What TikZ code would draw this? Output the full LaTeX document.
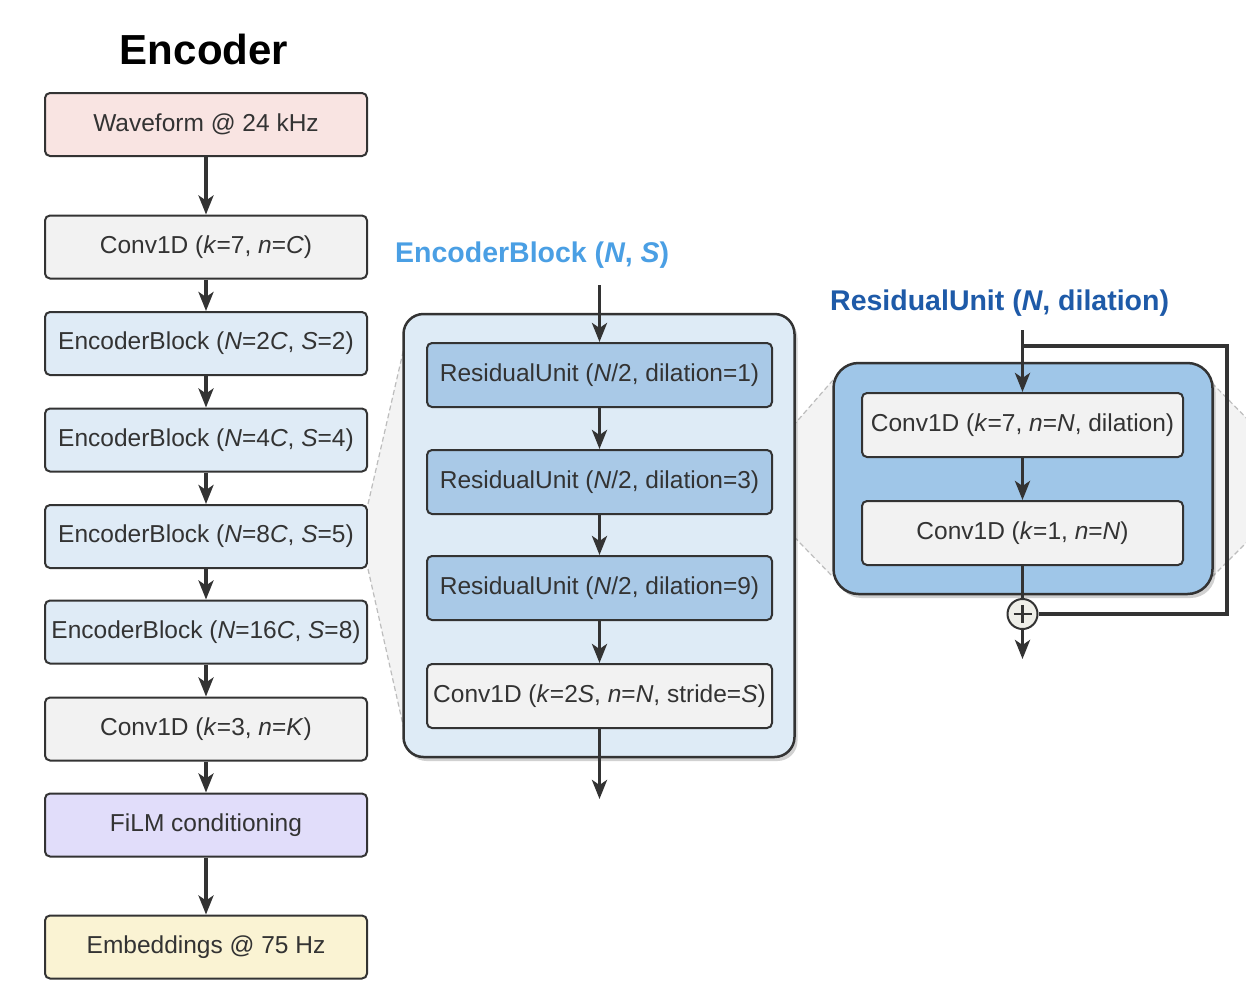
\documentclass[tikz,border=0pt]{standalone}
\usepackage{fontspec}
\setmainfont{Liberation Sans}
\usetikzlibrary{arrows.meta,shadows,calc}
\definecolor{pinkfill}{HTML}{F9E4E2}
\definecolor{grayfill}{HTML}{F2F2F2}
\definecolor{lbluefill}{HTML}{DFEBF6}
\definecolor{lavfill}{HTML}{E1DDFA}
\definecolor{yelfill}{HTML}{FAF3D3}
\definecolor{panelfill}{HTML}{DEEBF6}
\definecolor{rufill}{HTML}{A9C9E7}
\definecolor{rpanelfill}{HTML}{9FC6E8}
\definecolor{dark}{HTML}{333333}
\definecolor{titleblue}{HTML}{4A9FE4}
\definecolor{darkblue}{HTML}{1E5AA8}
\definecolor{zoomgray}{HTML}{F3F3F3}
\definecolor{dashgray}{HTML}{BDBDBD}
\definecolor{plusfill}{HTML}{EFEFE9}
\begin{document}
\begin{tikzpicture}[x=1pt,y=-1pt,
  box/.style={draw=dark,line width=2pt,rounded corners=5pt,minimum width=322pt,minimum height=63pt,inner sep=0pt,text=dark,font=\fontsize{24.5}{29}\selectfont},
  ibox/.style={box,minimum width=345pt,minimum height=64pt},
  rbox/.style={box,minimum width=321pt,minimum height=64pt},
  panel/.style={draw=dark,line width=2.5pt,inner sep=0pt,drop shadow={shadow xshift=3pt,shadow yshift=-4pt,opacity=0.18,fill=black}},
  arr/.style={draw=dark,line width=3.5pt,-{Stealth[length=19pt,width=15pt,inset=5pt]}},
  conn/.style={draw=dark,line width=3.5pt},
  zoomline/.style={draw=dashgray,line width=1.2pt,dash pattern=on 5pt off 3pt},
  ttl/.style={font=\fontsize{28.5}{34}\selectfont\bfseries,inner sep=0pt}
]
\useasboundingbox[fill=white] (0,0) rectangle (1246,1004);

% Title
\node[font=\fontsize{42}{50}\selectfont\bfseries,inner sep=0pt] (enc) at (204,49) {Encoder};

% left column
\node[box,fill=pinkfill] (wave) at (206,124.5) {Waveform @ 24 kHz};
\node[box,fill=grayfill] (c1) at (206,247) {Conv1D (\textit{k}=7, \textit{n}=\textit{C})};
\node[box,fill=lbluefill] (eb2) at (206,343.5) {EncoderBlock (\textit{N}=2\textit{C}, \textit{S}=2)};
\node[box,fill=lbluefill] (eb4) at (206,440) {EncoderBlock (\textit{N}=4\textit{C}, \textit{S}=4)};
\node[box,fill=lbluefill] (eb8) at (206,536.5) {EncoderBlock (\textit{N}=8\textit{C}, \textit{S}=5)};
\node[box,fill=lbluefill] (eb16) at (206,632) {EncoderBlock (\textit{N}=16\textit{C}, \textit{S}=8)};
\node[box,fill=grayfill] (c3) at (206,729) {Conv1D (\textit{k}=3, \textit{n}=\textit{K})};
\node[box,fill=lavfill] (film) at (206,825) {FiLM conditioning};
\node[box,fill=yelfill] (emb) at (206,947) {Embeddings @ 75 Hz};

\draw[arr] (wave) -- (c1);
\draw[arr] (c1) -- (eb2);
\draw[arr] (eb2) -- (eb4);
\draw[arr] (eb4) -- (eb8);
\draw[arr] (eb8) -- (eb16);
\draw[arr] (eb16) -- (c3);
\draw[arr] (c3) -- (film);
\draw[arr] (film) -- (emb);

% zoom region left
\coordinate (ebpl1) at (403.5,350);
\coordinate (ebpl2) at (403.5,727);
\fill[zoomgray] (eb8.north east) -- (ebpl1) -- (ebpl2) -- (eb8.south east) -- cycle;
\draw[zoomline] (eb8.north east) -- (ebpl1);
\draw[zoomline] (eb8.south east) -- (ebpl2);

% zoom region right (drawn before panels)
\coordinate (rz1) at (833,380);
\coordinate (rz2) at (1212,383);
\coordinate (rz3) at (1262,434);
\coordinate (rz4) at (1262,527);
\coordinate (rz5) at (1212,577);
\coordinate (rz6) at (833,577);
\coordinate (ru3ne) at (772,450);
\coordinate (ru3se) at (772,514);
\fill[zoomgray] (ru3ne) -- (rz1) -- (rz2) -- (rz3) -- (rz4) -- (rz5) -- (rz6) -- (ru3se) -- cycle;
\draw[zoomline] (ru3ne) -- (rz1);
\draw[zoomline] (ru3se) -- (rz6);
\draw[zoomline] (rz2) -- (rz3);
\draw[zoomline] (rz5) -- (rz4);

% EncoderBlock panel
\node[ttl,text=titleblue,anchor=west] (ebtitle) at (395,255) {EncoderBlock (\textit{N}, \textit{S})};
\node[panel,fill=panelfill,rounded corners=20pt,minimum width=391pt,minimum height=443pt] (ebp) at (599,535.5) {};
\node[ibox,fill=rufill] (ru1) at (599.5,375) {ResidualUnit (\textit{N}/2, dilation=1)};
\node[ibox,fill=rufill] (ru3) at (599.5,482) {ResidualUnit (\textit{N}/2, dilation=3)};
\node[ibox,fill=rufill] (ru9) at (599.5,588) {ResidualUnit (\textit{N}/2, dilation=9)};
\node[ibox,fill=grayfill] (cs) at (599.5,696) {Conv1D (\textit{k}=2\textit{S}, \textit{n}=\textit{N}, stride=\textit{S})};
\coordinate (ebin) at (599.5,285);
\coordinate (ebout) at (599.5,799);
\draw[arr] (ebin) -- (ru1);
\draw[arr] (ru1) -- (ru3);
\draw[arr] (ru3) -- (ru9);
\draw[arr] (ru9) -- (cs);
\draw[arr] (cs) -- (ebout);

% ResidualUnit panel
\node[ttl,text=darkblue,anchor=west] (rutitle) at (830,303) {ResidualUnit (\textit{N}, dilation)};
\node[panel,fill=rpanelfill,rounded corners=25pt,minimum width=379pt,minimum height=231pt] (rup) at (1023,478.5) {};
\node[rbox,fill=grayfill] (rc1) at (1022.5,425) {Conv1D (\textit{k}=7, \textit{n}=\textit{N}, dilation)};
\node[rbox,fill=grayfill] (rc2) at (1022.5,533) {Conv1D (\textit{k}=1, \textit{n}=\textit{N})};
\node[circle,draw=dark,line width=2pt,fill=plusfill,minimum size=30pt,inner sep=0pt] (plus) at (1022.5,614) {};
\draw[dark,line width=2.4pt] ($(plus.center)+(-9,0)$) -- ($(plus.center)+(9,0)$);
\draw[dark,line width=2.4pt] ($(plus.center)+(0,-9)$) -- ($(plus.center)+(0,9)$);

\coordinate (rin) at (1022.5,330);
\coordinate (rsk) at (1022.5,346);
\coordinate (skr) at (1227,346);
\coordinate (skb) at (1227,614);
\coordinate (rout) at (1022.5,659);
\draw[arr] (rin) -- (rc1);
\draw[conn] (rsk) -- (skr) -- (skb) -- (plus.east);
\draw[arr] (rc1) -- (rc2);
\draw[conn] (rc2) -- (plus);
\draw[arr] (plus) -- (rout);
\end{tikzpicture}
\end{document}
